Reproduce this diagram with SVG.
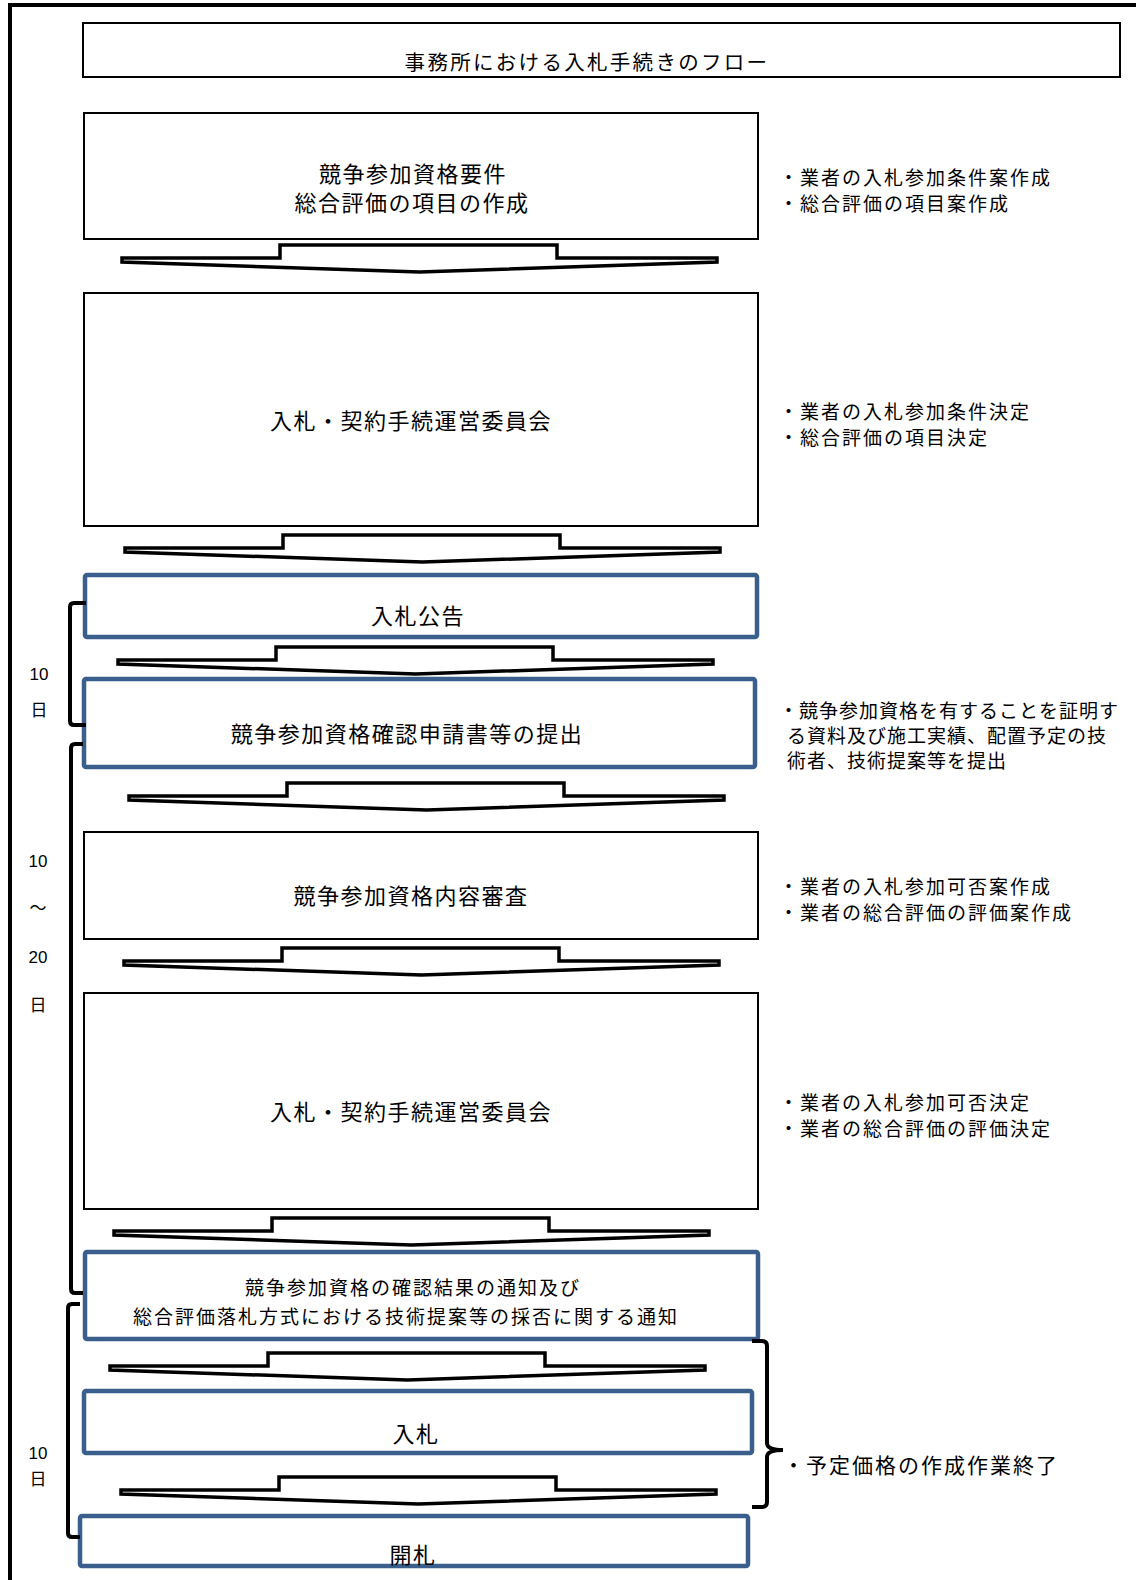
<svg xmlns="http://www.w3.org/2000/svg" xmlns:xlink="http://www.w3.org/1999/xlink" width="1136" height="1580" viewBox="0 0 1136 1580">
<style>
text{font-family:"Noto Sans CJK JP","Noto Sans",sans-serif;fill:#000}
.bk{fill:#fff;stroke:#000;stroke-width:2}
.bl{fill:#fff;stroke:#3B5F8C;stroke-width:4.5}
.main{font-size:22px;letter-spacing:1.5px;text-anchor:middle}
.small{font-size:19px;letter-spacing:2px;text-anchor:middle}
.side{font-size:19px;letter-spacing:2px}
.side2{font-size:19px;letter-spacing:1px}
.num{font-family:"Liberation Sans","Noto Sans CJK JP",sans-serif;font-size:17px;text-anchor:middle}
.br{fill:none;stroke:#000;stroke-width:4}
</style>
<defs>
<path id="arr" d="M0,13 H158 V0 H435 V13 H595 V17 L297.5,27 L0,17 Z" fill="#fff" stroke="#000" stroke-width="3.5" stroke-linejoin="miter"/>
</defs>
<rect width="1136" height="1580" fill="#fff"/>
<path d="M10,1580 V5 H1136" fill="none" stroke="#000" stroke-width="4"/>

<g id="title">
<rect class="bk" x="83" y="23" width="1037" height="54"/>
<text x="587" y="70" style="font-size:20.5px;letter-spacing:2.3px;text-anchor:middle">事務所における入札手続きのフロー</text>
</g>

<g id="n1">
<rect class="bk" x="84" y="113" width="674" height="126"/>
<text class="main" x="413" y="182">競争参加資格要件</text>
<text class="main" x="412" y="211">総合評価の項目の作成</text>
</g>
<g id="s1">
<text class="side" x="779" y="185">・業者の入札参加条件案作成</text>
<text class="side" x="779" y="211">・総合評価の項目案作成</text>
</g>

<g id="n2">
<rect class="bk" x="84" y="293" width="674" height="233"/>
<text class="main" x="411" y="429">入札・契約手続運営委員会</text>
</g>
<g id="s2">
<text class="side" x="779" y="419">・業者の入札参加条件決定</text>
<text class="side" x="779" y="445">・総合評価の項目決定</text>
</g>

<g id="n3">
<rect class="bl" x="85" y="575" width="672" height="62" rx="2"/>
<text class="main" x="418" y="624">入札公告</text>
</g>

<g id="n4">
<rect class="bl" x="84" y="679" width="671" height="88" rx="2"/>
<text class="main" x="407" y="742">競争参加資格確認申請書等の提出</text>
</g>
<g id="s3">
<text class="side2" x="779" y="718">・競争参加資格を有することを証明す</text>
<text class="side2" x="787" y="743">る資料及び施工実績、配置予定の技</text>
<text class="side2" x="787" y="768">術者、技術提案等を提出</text>
</g>

<g id="n5">
<rect class="bk" x="84" y="832" width="674" height="107"/>
<text class="main" x="411" y="904">競争参加資格内容審査</text>
</g>
<g id="s4">
<text class="side" x="779" y="894">・業者の入札参加可否案作成</text>
<text class="side" x="779" y="920">・業者の総合評価の評価案作成</text>
</g>

<g id="n6">
<rect class="bk" x="84" y="993" width="674" height="216"/>
<text class="main" x="411" y="1120">入札・契約手続運営委員会</text>
</g>
<g id="s5">
<text class="side" x="779" y="1110">・業者の入札参加可否決定</text>
<text class="side" x="779" y="1136">・業者の総合評価の評価決定</text>
</g>

<g id="n7">
<rect class="bl" x="85" y="1252" width="673" height="87" rx="2"/>
<text class="small" x="413" y="1295">競争参加資格の確認結果の通知及び</text>
<text class="small" x="406" y="1324">総合評価落札方式における技術提案等の採否に関する通知</text>
</g>

<g id="n8">
<rect class="bl" x="84" y="1391" width="668" height="62" rx="2"/>
<text class="main" x="416" y="1442">入札</text>
</g>

<g id="n9">
<rect class="bl" x="80" y="1516" width="668" height="50" rx="2"/>
<text class="main" x="413" y="1563">開札</text>
</g>

<g id="s6">
<text x="783" y="1473" style="font-size:21px;letter-spacing:2px">・予定価格の作成作業終了</text>
</g>

<g id="connectors">
<use xlink:href="#arr" x="122" y="245"/>
<use xlink:href="#arr" x="125" y="535"/>
<use xlink:href="#arr" x="118" y="647"/>
<use xlink:href="#arr" x="129" y="783"/>
<use xlink:href="#arr" x="124" y="948"/>
<use xlink:href="#arr" x="114" y="1218"/>
<use xlink:href="#arr" x="110" y="1353"/>
<use xlink:href="#arr" x="121" y="1477"/>
</g>

<g id="brackets">
<path class="br" d="M86,603 H74 Q70,603 70,607 V721 Q70,725 74,725 H86"/>
<path class="br" d="M83,744 H75 Q71,744 71,748 V1289 Q71,1293 75,1293 H83"/>
<path class="br" d="M80,1304 H72 Q68,1304 68,1308 V1533 Q68,1537 72,1537 H80"/>
<path class="br" d="M752,1341 H762 Q767,1341 767,1346 V1443 Q767,1450 783,1450 Q767,1450 767,1457 V1502 Q767,1507 762,1507 H752"/>
</g>

<g id="labels">
<text class="num" x="39" y="680">10</text>
<text class="num" x="39" y="716">日</text>
<text class="num" x="38" y="867">10</text>
<text class="num" x="38" y="914">～</text>
<text class="num" x="38" y="963">20</text>
<text class="num" x="38" y="1011">日</text>
<text class="num" x="38" y="1459">10</text>
<text class="num" x="38" y="1485">日</text>
</g>
</svg>
